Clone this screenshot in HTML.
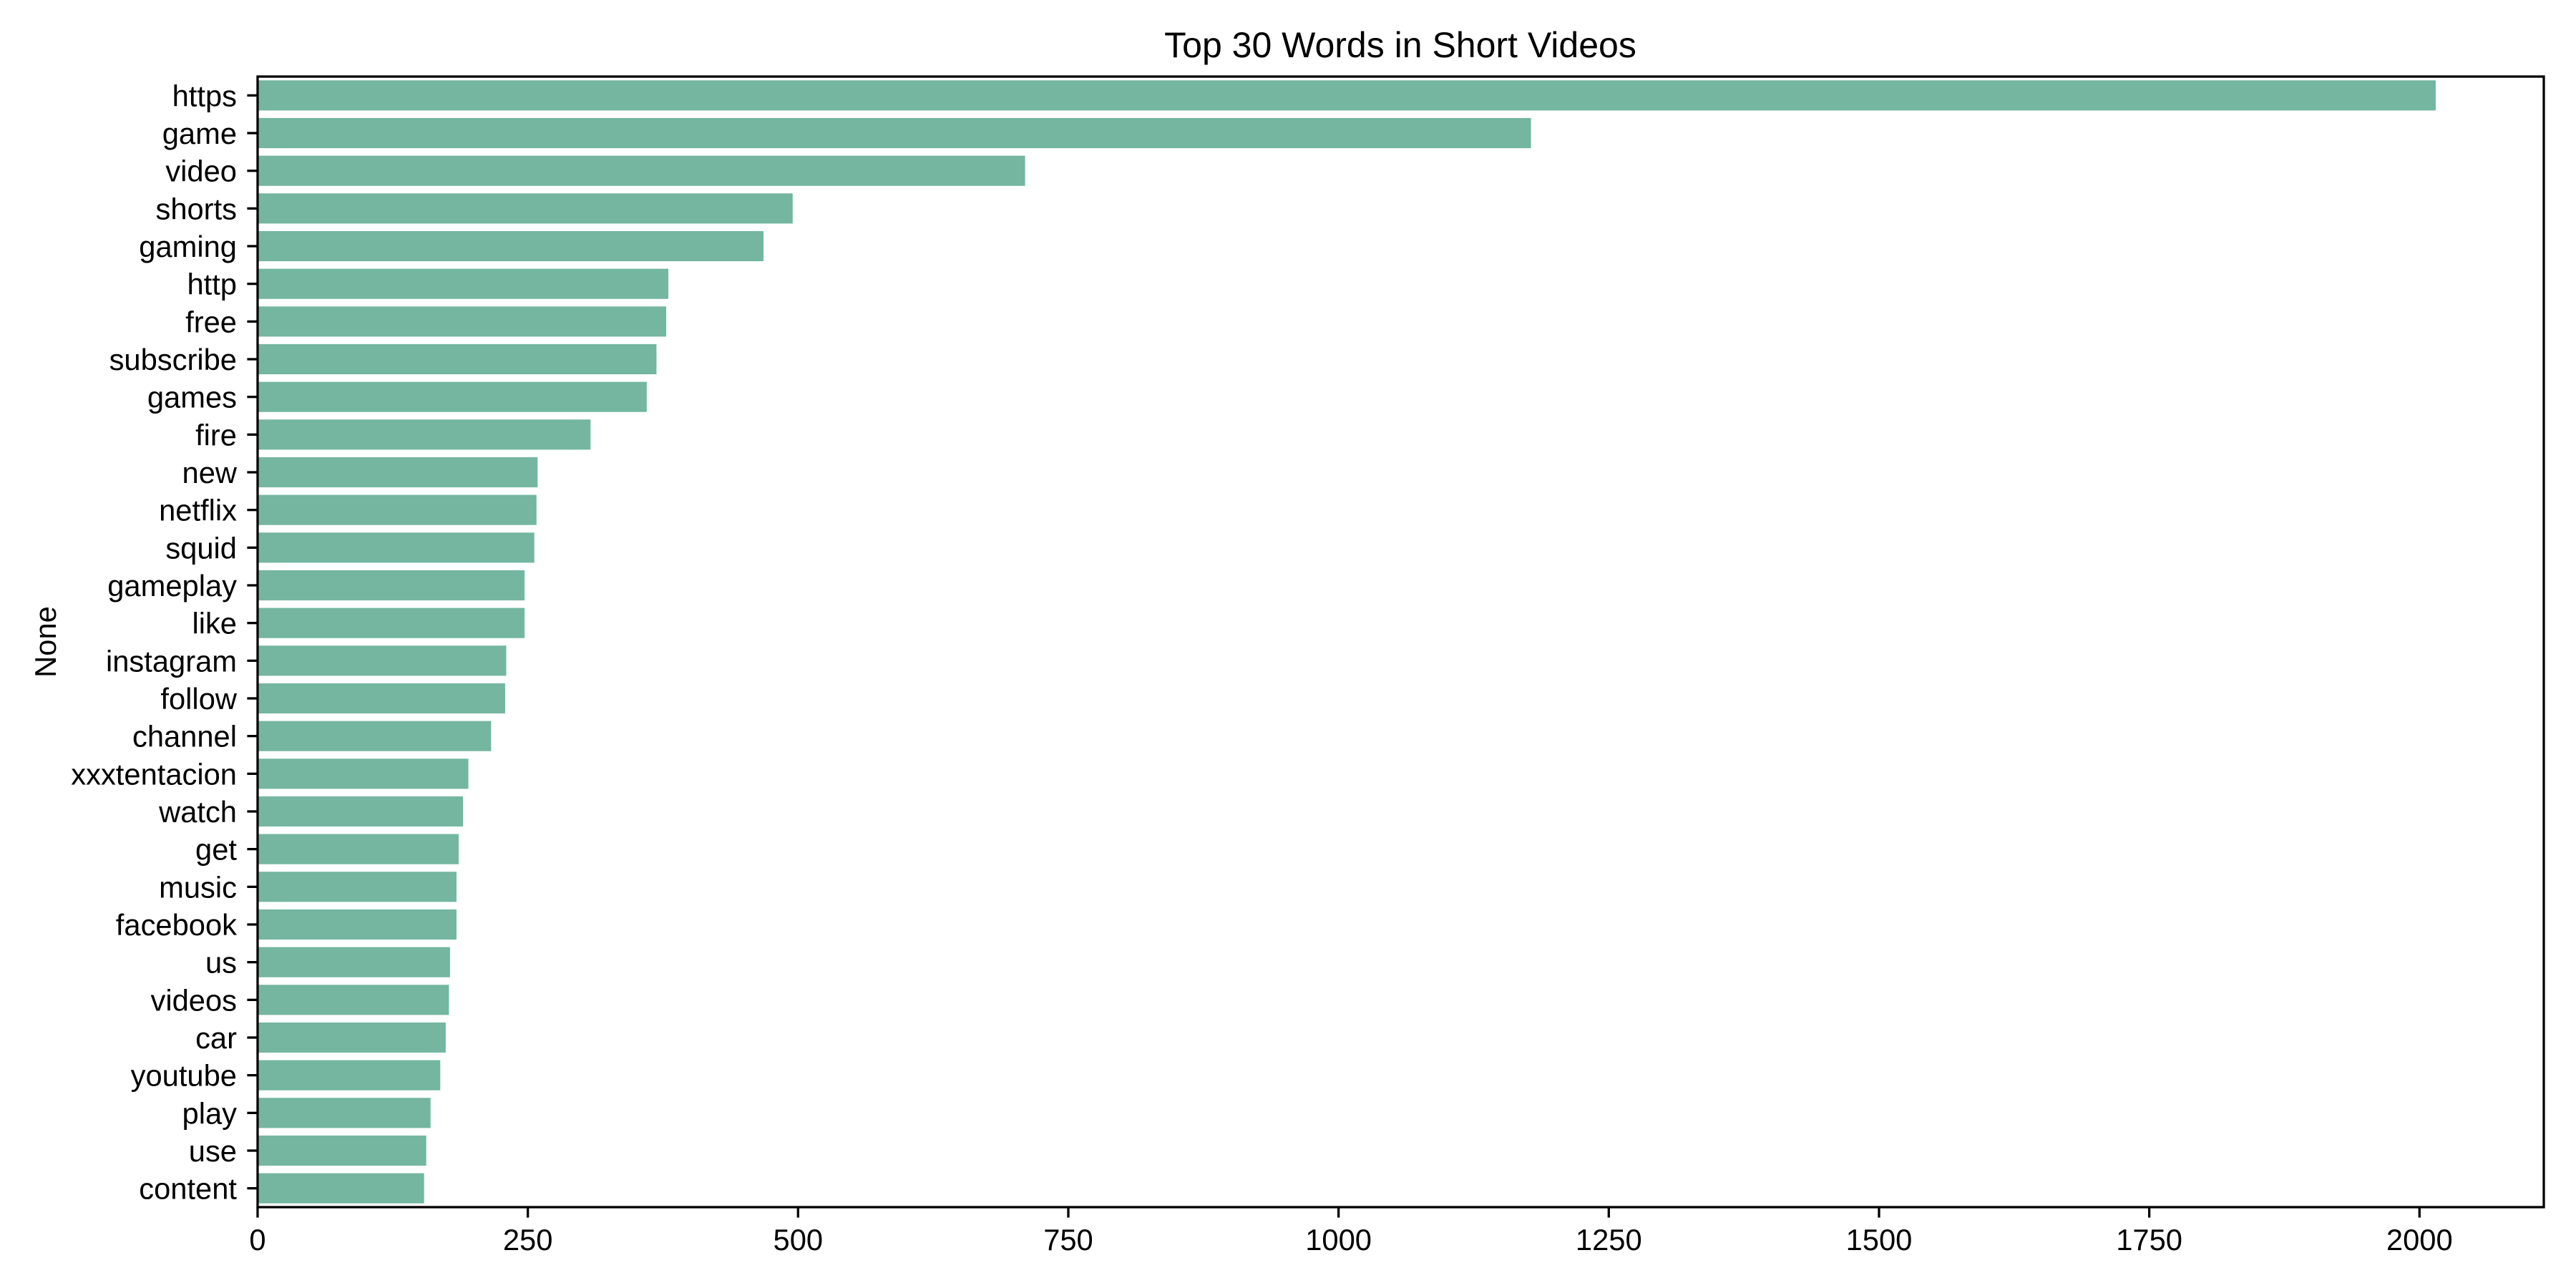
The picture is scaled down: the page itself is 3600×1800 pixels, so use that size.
<!DOCTYPE html>
<html><head><meta charset="utf-8"><style>
html,body{margin:0;padding:0;background:#fff;}
svg{display:block;font-family:"Liberation Sans",Arial,sans-serif;}
</style></head><body>
<svg id="chart" width="3600" height="1800" viewBox="0 0 3600 1800" xmlns="http://www.w3.org/2000/svg">
<rect width="3600" height="1800" fill="#fff"/>
<text x="1957" y="80" font-size="50" text-anchor="middle">Top 30 Words in Short Videos</text>
<text transform="translate(78,897) rotate(-90)" font-size="41.7" text-anchor="middle">None</text>
<g id="bars"></g>
<g id="yticks"></g>
<g id="xticks"></g>
<rect x="360" y="107" width="3195" height="1580" fill="none" stroke="#000" stroke-width="3.3"/>
</svg>
<script>
const categories = ["https","game","video","shorts","gaming","http","free","subscribe","games","fire","new","netflix","squid","gameplay","like","instagram","follow","channel","xxxtentacion","watch","get","music","facebook","us","videos","car","youtube","play","use","content"];
const counts = [2015,1178,710,495,468,380,378,369,360,308,259,258,256,247,247,230,229,216,195,190,186,184,184,178,177,174,169,160,156,154];
const xTicks = [0,250,500,750,1000,1250,1500,1750,2000];
const xMax = 2115;
const L=360,R=3555,T=107,B=1687;
const NS="http://www.w3.org/2000/svg";
function xs(v){return L+(v/xMax)*(R-L);}
const step=(B-T)/categories.length;
function yc(i){return T+step*(i+0.5);}
function mk(tag,attrs,parent){const e=document.createElementNS(NS,tag);for(const k in attrs)e.setAttribute(k,attrs[k]);parent.appendChild(e);return e;}
const gb=document.getElementById('bars'),gy=document.getElementById('yticks'),gx=document.getElementById('xticks');
categories.forEach((c,i)=>{
  const r=mk('rect',{x:L,y:yc(i)-step*0.4,width:xs(counts[i])-L,height:step*0.8,fill:'#74b6a0'},gb);
  
  
  const tl=mk('line',{x1:L-14.6,x2:L,y1:yc(i),y2:yc(i),stroke:'#000','stroke-width':3.3},gy);
  
  
  const t=mk('text',{x:L-29,y:yc(i)+15,'font-size':41.7,'text-anchor':'end'},gy);
  t.textContent=c;
  
  
});
xTicks.forEach(v=>{
  const tl=mk('line',{x1:xs(v),x2:xs(v),y1:B,y2:B+14.6,stroke:'#000','stroke-width':3.3},gx);
  
  
  const t=mk('text',{x:xs(v),y:B+60,'font-size':41.7,'text-anchor':'middle'},gx);
  t.textContent=v;
  
  
});
</script>
</body></html>
